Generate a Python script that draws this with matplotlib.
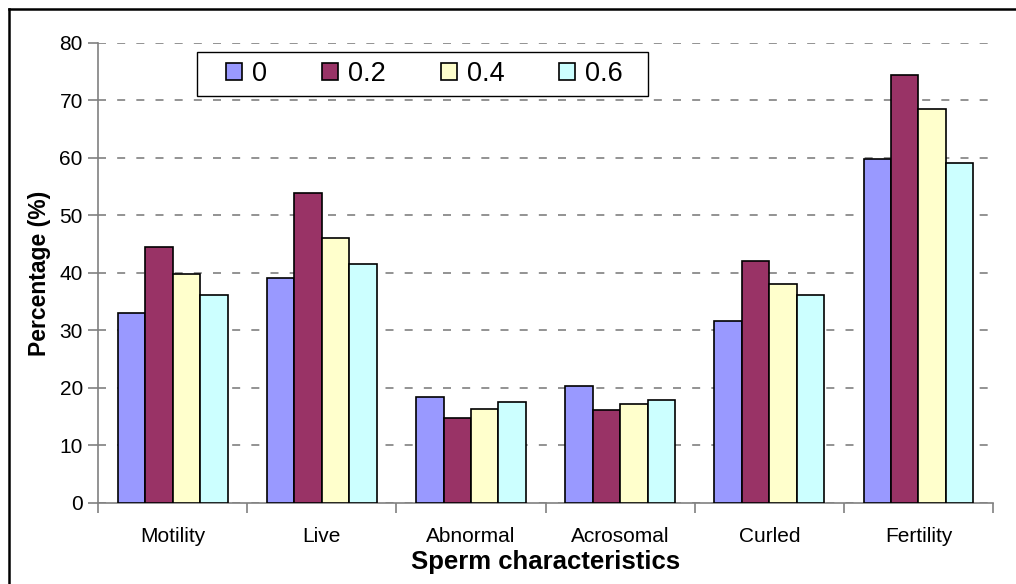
import matplotlib
matplotlib.use("Agg")
import matplotlib.pyplot as plt
import numpy as np
from matplotlib.lines import Line2D
from matplotlib.patches import Rectangle

# Chart data
categories = ['Motility', 'Live', 'Abnormal', 'Acrosomal', 'Curled', 'Fertility']
series_names = ['0', '0.2', '0.4', '0.6']
vals_0 = [33.0, 39.2, 18.4, 20.3, 31.6, 59.8]
vals_02 = [44.5, 53.9, 14.8, 16.2, 42.0, 74.4]
vals_04 = [39.8, 46.0, 16.4, 17.3, 38.1, 68.5]
vals_06 = [36.1, 41.5, 17.6, 17.9, 36.1, 59.2]
colors = ['#9999FF', '#993366', '#FFFFCC', '#CCFFFF']

plt.rcParams['font.family'] = ['Liberation Sans', 'DejaVu Sans']

fig = plt.figure(figsize=(10.16, 5.84), dpi=100)
ax = fig.add_axes([0.0965, 0.1387, 0.9774 - 0.0965, 0.9264 - 0.1387])

x = np.arange(len(categories))
w = 0.184
for j, (vals, name) in enumerate(zip([vals_0, vals_02, vals_04, vals_06], series_names)):
    ax.bar(x + (j - 1.5) * w, vals, width=w, color=colors[j], edgecolor='black',
           linewidth=1.2, label=name, zorder=3)

ax.set_xlim(-0.5, len(categories) - 0.5)
ax.set_ylim(0, 80)
ax.set_yticks(np.arange(0, 81, 10))
ax.yaxis.grid(True, color='#808080', linestyle=(0, (4.8, 6.7)), linewidth=1.2, zorder=0)

# category boundaries get the tick marks, names sit in the middle
ax.set_xticks(np.arange(-0.5, len(categories), 1.0))
ax.set_xticklabels([])
ax.set_xticks(x, minor=True)
ax.set_xticklabels(categories, minor=True, fontsize=15)
ax.tick_params(axis='x', which='major', length=7, color='#808080', width=1.2)
ax.tick_params(axis='x', which='minor', length=0, pad=17)
ax.tick_params(axis='y', length=7, color='#808080', width=1.2, labelsize=15, pad=4)

for s in ['top', 'right']:
    ax.spines[s].set_visible(False)
for s in ['left', 'bottom']:
    ax.spines[s].set_color('#808080')
    ax.spines[s].set_linewidth(1.2)

ax.set_xlabel('Sperm characteristics', fontsize=18.5, fontweight='bold', labelpad=3)
ax.set_ylabel('Percentage (%)', fontsize=16.5, fontweight='bold', labelpad=6)

# legend box drawn separately so the wide side padding matches
box = (197 / 1016, 1 - 96 / 584, 451 / 1016, 44 / 584)
fig.add_artist(Rectangle(box[:2], box[2], box[3], transform=fig.transFigure,
                         facecolor='white', edgecolor='black', linewidth=1.0, zorder=4))
leg = fig.legend(loc='center', ncol=4, borderaxespad=0,
                 bbox_to_anchor=(box[0] + 0.002, box[1], box[2], box[3]),
                 fontsize=19.5, handlelength=0.59, handleheight=0.59, handletextpad=0.37,
                 columnspacing=2.03, frameon=False, borderpad=0)
leg.set_zorder(5)
for h in leg.legend_handles:
    h.set_linewidth(1.2)

# outer frame (left and top edges visible in the reference)
fig.add_artist(Line2D([9 / 1016, 9 / 1016], [0, 1 - 9 / 584], color='black', linewidth=1.8,
                      transform=fig.transFigure))
fig.add_artist(Line2D([9 / 1016, 1], [1 - 9 / 584, 1 - 9 / 584], color='black', linewidth=1.8,
                      transform=fig.transFigure))

fig.savefig('out.png', dpi=100)
